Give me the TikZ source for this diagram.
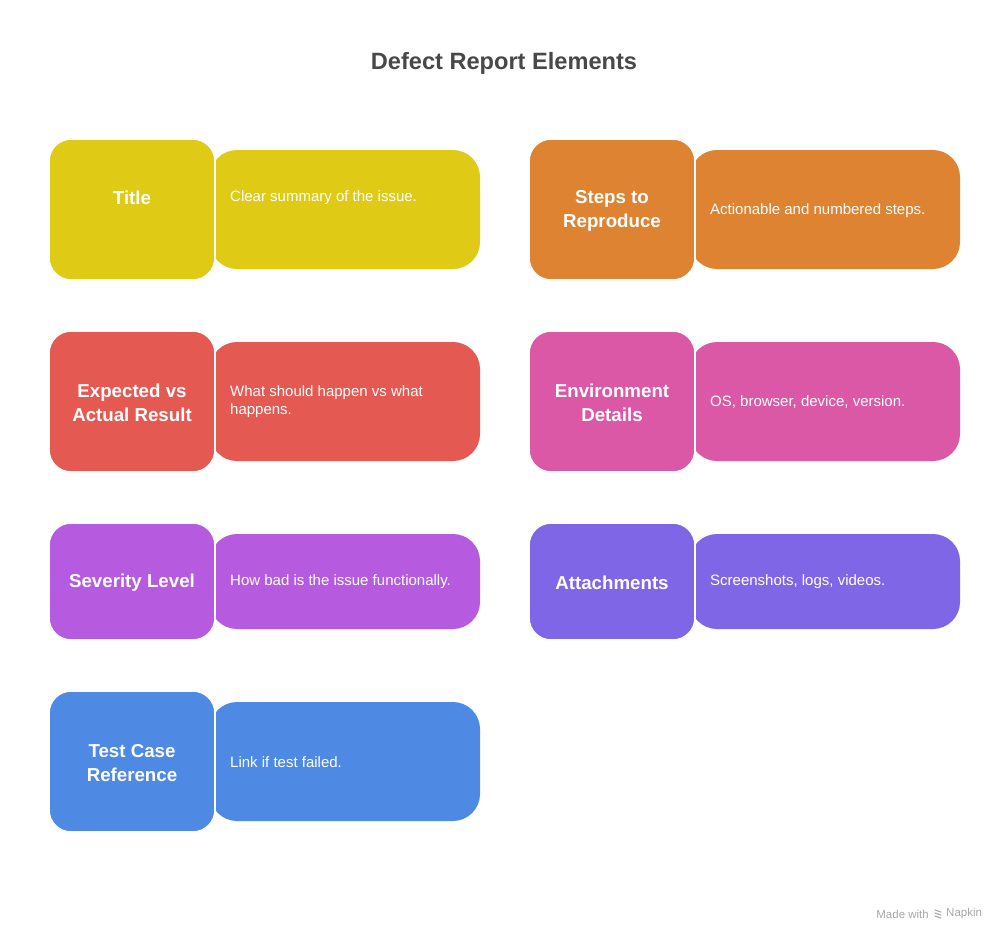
\documentclass[tikz,border=0pt]{standalone}
\usepackage{fontspec}
\setmainfont{Liberation Sans}
\definecolor{cyel}{HTML}{DFCB16}
\definecolor{cora}{HTML}{DE8331}
\definecolor{cred}{HTML}{E45A52}
\definecolor{cpink}{HTML}{DB58A7}
\definecolor{cpur}{HTML}{B65BE0}
\definecolor{cvio}{HTML}{7F66E7}
\definecolor{cblue}{HTML}{4E89E4}
\definecolor{ctitle}{HTML}{484848}
\definecolor{cmark}{HTML}{A8A8A8}
\tikzset{
  labelbox/.style={rectangle, rounded corners=22pt, draw=white, line width=1.6pt,
    minimum width=166pt, inner sep=0pt},
  descbox/.style={rectangle, rounded corners=27pt, draw=none,
    minimum width=270pt, inner sep=0pt},
  labeltext/.style={text=white, font=\fontsize{18.7}{24}\selectfont\bfseries,
    align=center, inner sep=0pt},
  desctext/.style={text=white, font=\fontsize{15}{18}\selectfont,
    align=left, anchor=west, inner sep=0pt},
}
\begin{document}
\begin{tikzpicture}[x=1pt,y=1pt]
\useasboundingbox (0,0) rectangle (1008,-942);
\fill[white] (0,0) rectangle (1008,-942);
\node[text=ctitle, font=\fontsize{23.6}{28}\selectfont\bfseries] (title) at (504,-63) {Defect Report Elements};

% Row 1 left: Title
\node[descbox, fill=cyel, minimum height=119pt] (d1) at (345,-209.5) {};
\node[labelbox, fill=cyel, minimum height=141pt] (l1) at (132,-209.5) {};
\node[labeltext] (t1) at (132,-198) {Title};
\node[desctext] (s1) at (230,-198) {Clear summary of the issue.};

% Row 1 right: Steps
\node[descbox, fill=cora, minimum height=119pt] (d2) at (825,-209.5) {};
\node[labelbox, fill=cora, minimum height=141pt] (l2) at (612,-209.5) {};
\node[labeltext] (t2) at (612,-211) {Steps to\\Reproduce};
\node[desctext] (s2) at (710,-211) {Actionable and numbered steps.};

% Row 2 left: Expected
\node[descbox, fill=cred, minimum height=119pt] (d3) at (345,-401.5) {};
\node[labelbox, fill=cred, minimum height=141pt] (l3) at (132,-401.5) {};
\node[labeltext] (t3) at (132,-403) {Expected vs\\Actual Result};
\node[desctext] (s3) at (230,-402) {What should happen vs what\\happens.};

% Row 2 right: Environment
\node[descbox, fill=cpink, minimum height=119pt] (d4) at (825,-401.5) {};
\node[labelbox, fill=cpink, minimum height=141pt] (l4) at (612,-401.5) {};
\node[labeltext] (t4) at (612,-403) {Environment\\Details};
\node[desctext] (s4) at (710,-402) {OS, browser, device, version.};

% Row 3 left: Severity
\node[descbox, fill=cpur, minimum height=95pt] (d5) at (345,-581.5) {};
\node[labelbox, fill=cpur, minimum height=117pt] (l5) at (132,-581.5) {};
\node[labeltext] (t5) at (132,-582.5) {Severity Level};
\node[desctext] (s5) at (230,-582) {How bad is the issue functionally.};

% Row 3 right: Attachments
\node[descbox, fill=cvio, minimum height=95pt] (d6) at (825,-581.5) {};
\node[labelbox, fill=cvio, minimum height=117pt] (l6) at (612,-581.5) {};
\node[labeltext] (t6) at (612,-582.5) {Attachments};
\node[desctext] (s6) at (710,-582) {Screenshots, logs, videos.};

% Row 4 left: Test Case
\node[descbox, fill=cblue, minimum height=119pt] (d7) at (345,-761.5) {};
\node[labelbox, fill=cblue, minimum height=141pt] (l7) at (132,-761.5) {};
\node[labeltext] (t7) at (132,-763) {Test Case\\Reference};
\node[desctext] (s7) at (230,-762) {Link if test failed.};

% watermark
\node[text=cmark, font=\fontsize{11.5}{13}\selectfont, anchor=east, inner sep=0pt] (mw) at (929,-914) {Made with};
\node[text=cmark, font=\fontsize{11.5}{13}\selectfont, anchor=west, inner sep=0pt] (np) at (946,-914) {Napkin};
\coordinate (ic) at (938,-914);
\draw[cmark, line width=1.1pt, line cap=round] ([shift={(-3,4)}]ic) -- ([shift={(3,2)}]ic)
  ([shift={(-3,1)}]ic) -- ([shift={(3,-1)}]ic)
  ([shift={(-3,-2)}]ic) -- ([shift={(3,-4)}]ic);
\end{tikzpicture}
\end{document}
